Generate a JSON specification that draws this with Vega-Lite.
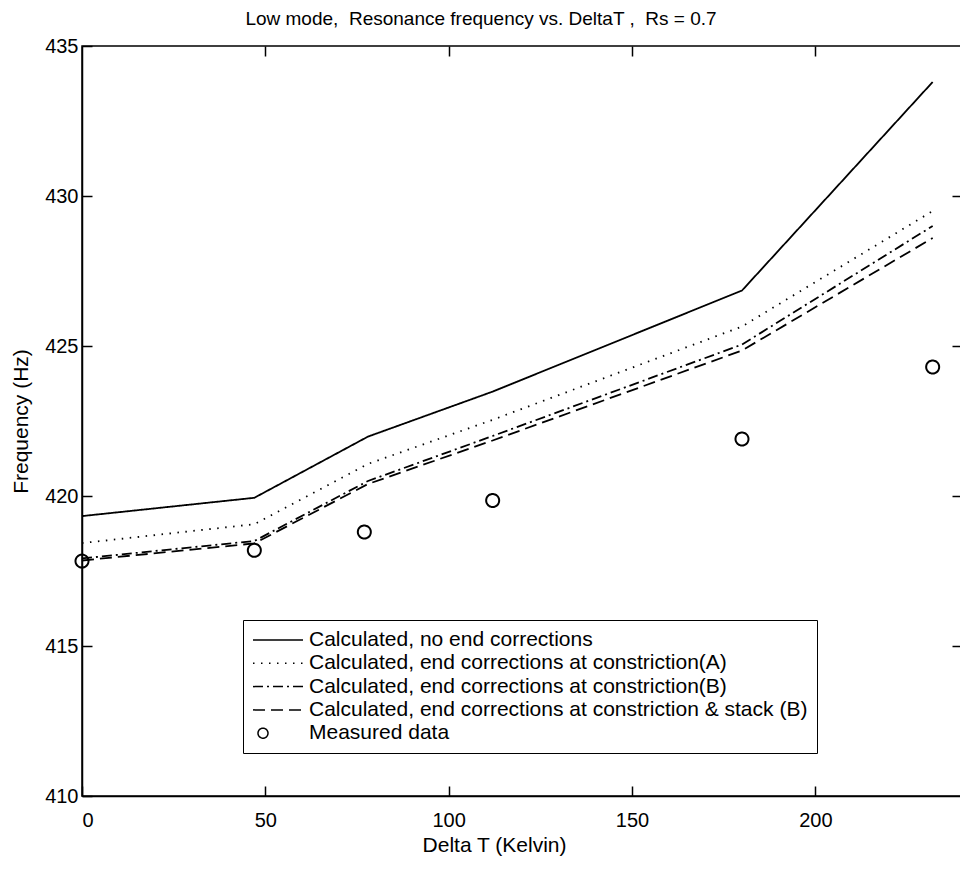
{
  "$schema": "https://vega.github.io/schema/vega-lite/v6.json",
  "width": 880,
  "height": 750,
  "autosize": "none",
  "padding": {"left": 82, "top": 46, "right": 0, "bottom": 73},
  "background": "white",
  "title": {
    "text": "Low mode,\u00a0 Resonance frequency vs. DeltaT ,\u00a0 Rs = 0.7",
    "font": "Liberation Sans",
    "fontSize": 19,
    "fontWeight": "normal",
    "color": "black",
    "anchor": "middle",
    "frame": "group",
    "dx": -41,
    "offset": 7
  },
  "config": {
    "view": {"stroke": "black", "strokeWidth": 1.5},
    "axis": {
      "grid": false,
      "domainColor": "black",
      "domainWidth": 1.5,
      "tickColor": "black",
      "tickWidth": 1.5,
      "tickSize": -10,
      "labelFont": "Liberation Sans",
      "labelFontSize": 20,
      "labelColor": "black",
      "titleFont": "Liberation Sans",
      "titleFontSize": 21,
      "titleFontWeight": "normal",
      "titleColor": "black"
    },
    "legend": {
      "orient": "none",
      "legendX": 161,
      "legendY": 574,
      "padding": 9,
      "strokeColor": "black",
      "fillColor": "white",
      "labelFont": "Liberation Sans",
      "labelFontSize": 21,
      "labelColor": "black",
      "labelLimit": 800,
      "labelOffset": 35,
      "rowPadding": 2.3,
      "symbolSize": 400,
      "symbolStrokeWidth": 1.5,
      "symbolStrokeColor": "black",
      "symbolOpacity": 1
    }
  },
  "datasets": {
    "calc": [
      {"series": "Calculated, no end corrections", "T": 0, "f": 419.33},
      {"series": "Calculated, no end corrections", "T": 47, "f": 419.94},
      {"series": "Calculated, no end corrections", "T": 78, "f": 421.98},
      {"series": "Calculated, no end corrections", "T": 112, "f": 423.48},
      {"series": "Calculated, no end corrections", "T": 180, "f": 426.85},
      {"series": "Calculated, no end corrections", "T": 232, "f": 433.8},
      {"series": "Calculated, end corrections at constriction(A)", "T": 0, "f": 418.43},
      {"series": "Calculated, end corrections at constriction(A)", "T": 47, "f": 419.06},
      {"series": "Calculated, end corrections at constriction(A)", "T": 78, "f": 421.07},
      {"series": "Calculated, end corrections at constriction(A)", "T": 112, "f": 422.54},
      {"series": "Calculated, end corrections at constriction(A)", "T": 180, "f": 425.65},
      {"series": "Calculated, end corrections at constriction(A)", "T": 232, "f": 429.5},
      {"series": "Calculated, end corrections at constriction(B)", "T": 0, "f": 417.92},
      {"series": "Calculated, end corrections at constriction(B)", "T": 47, "f": 418.5},
      {"series": "Calculated, end corrections at constriction(B)", "T": 78, "f": 420.5},
      {"series": "Calculated, end corrections at constriction(B)", "T": 112, "f": 422.0},
      {"series": "Calculated, end corrections at constriction(B)", "T": 180, "f": 425.05},
      {"series": "Calculated, end corrections at constriction(B)", "T": 232, "f": 429.0},
      {"series": "Calculated, end corrections at constriction & stack (B)", "T": 0, "f": 417.85},
      {"series": "Calculated, end corrections at constriction & stack (B)", "T": 47, "f": 418.42},
      {"series": "Calculated, end corrections at constriction & stack (B)", "T": 78, "f": 420.4},
      {"series": "Calculated, end corrections at constriction & stack (B)", "T": 112, "f": 421.85},
      {"series": "Calculated, end corrections at constriction & stack (B)", "T": 180, "f": 424.85},
      {"series": "Calculated, end corrections at constriction & stack (B)", "T": 232, "f": 428.6}
    ],
    "measured": [
      {"series": "Measured data", "T": 0, "f": 417.83},
      {"series": "Measured data", "T": 47, "f": 418.19},
      {"series": "Measured data", "T": 77, "f": 418.8},
      {"series": "Measured data", "T": 112, "f": 419.85},
      {"series": "Measured data", "T": 180, "f": 421.9},
      {"series": "Measured data", "T": 232, "f": 424.3}
    ]
  },
  "layer": [
    {
      "data": {"name": "calc"},
      "mark": {"type": "line", "color": "black", "strokeWidth": 1.8},
      "encoding": {
        "x": {
          "field": "T", "type": "quantitative",
          "scale": {"domain": [0, 240], "nice": false, "zero": false},
          "axis": {"title": "Delta T (Kelvin)", "values": [0, 50, 100, 150, 200], "labelPadding": 24, "titlePadding": 4, "titleX": 412}
        },
        "y": {
          "field": "f", "type": "quantitative",
          "scale": {"domain": [410, 435], "nice": false, "zero": false},
          "axis": {"title": "Frequency (Hz)", "values": [410, 415, 420, 425, 430, 435], "labelPadding": 14, "titlePadding": 13}
        },
        "strokeDash": {
          "field": "series", "type": "nominal",
          "scale": {
            "domain": [
              "Calculated, no end corrections",
              "Calculated, end corrections at constriction(A)",
              "Calculated, end corrections at constriction(B)",
              "Calculated, end corrections at constriction & stack (B)",
              "Measured data"
            ],
            "range": [[1, 0], [1.5, 6.5], [10, 4, 2, 4], [12, 6], [1, 0]]
          },
          "legend": {"title": null}
        }
      }
    },
    {
      "data": {"name": "measured"},
      "mark": {"type": "point", "filled": false, "color": "black", "opacity": 1, "size": 676, "strokeWidth": 2},
      "encoding": {
        "x": {
          "field": "T", "type": "quantitative",
          "scale": {"domain": [0, 240], "nice": false, "zero": false},
          "axis": {"orient": "top", "title": null, "labels": false, "domain": false, "values": [50, 100, 150, 200]}
        },
        "y": {
          "field": "f", "type": "quantitative",
          "scale": {"domain": [410, 435], "nice": false, "zero": false},
          "axis": {"orient": "right", "title": null, "labels": false, "domain": false, "values": [415, 420, 425, 430]}
        },
        "shape": {
          "field": "series", "type": "nominal",
          "scale": {
            "domain": [
              "Calculated, no end corrections",
              "Calculated, end corrections at constriction(A)",
              "Calculated, end corrections at constriction(B)",
              "Calculated, end corrections at constriction & stack (B)",
              "Measured data"
            ],
            "range": ["M-1,0H4", "M-1,0H4", "M-1,0H4", "M-1,0H4", "M-0.5,0A0.5,0.5,0,1,0,0.5,0A0.5,0.5,0,1,0,-0.5,0Z"]
          },
          "legend": {"title": null}
        },
        "strokeDash": {
          "field": "series", "type": "nominal",
          "scale": {
            "domain": [
              "Calculated, no end corrections",
              "Calculated, end corrections at constriction(A)",
              "Calculated, end corrections at constriction(B)",
              "Calculated, end corrections at constriction & stack (B)",
              "Measured data"
            ],
            "range": [[1, 0], [1.5, 6.5], [10, 4, 2, 4], [12, 6], [1, 0]]
          },
          "legend": {"title": null}
        }
      }
    }
  ],
  "resolve": {"axis": {"x": "independent", "y": "independent"}}
}
